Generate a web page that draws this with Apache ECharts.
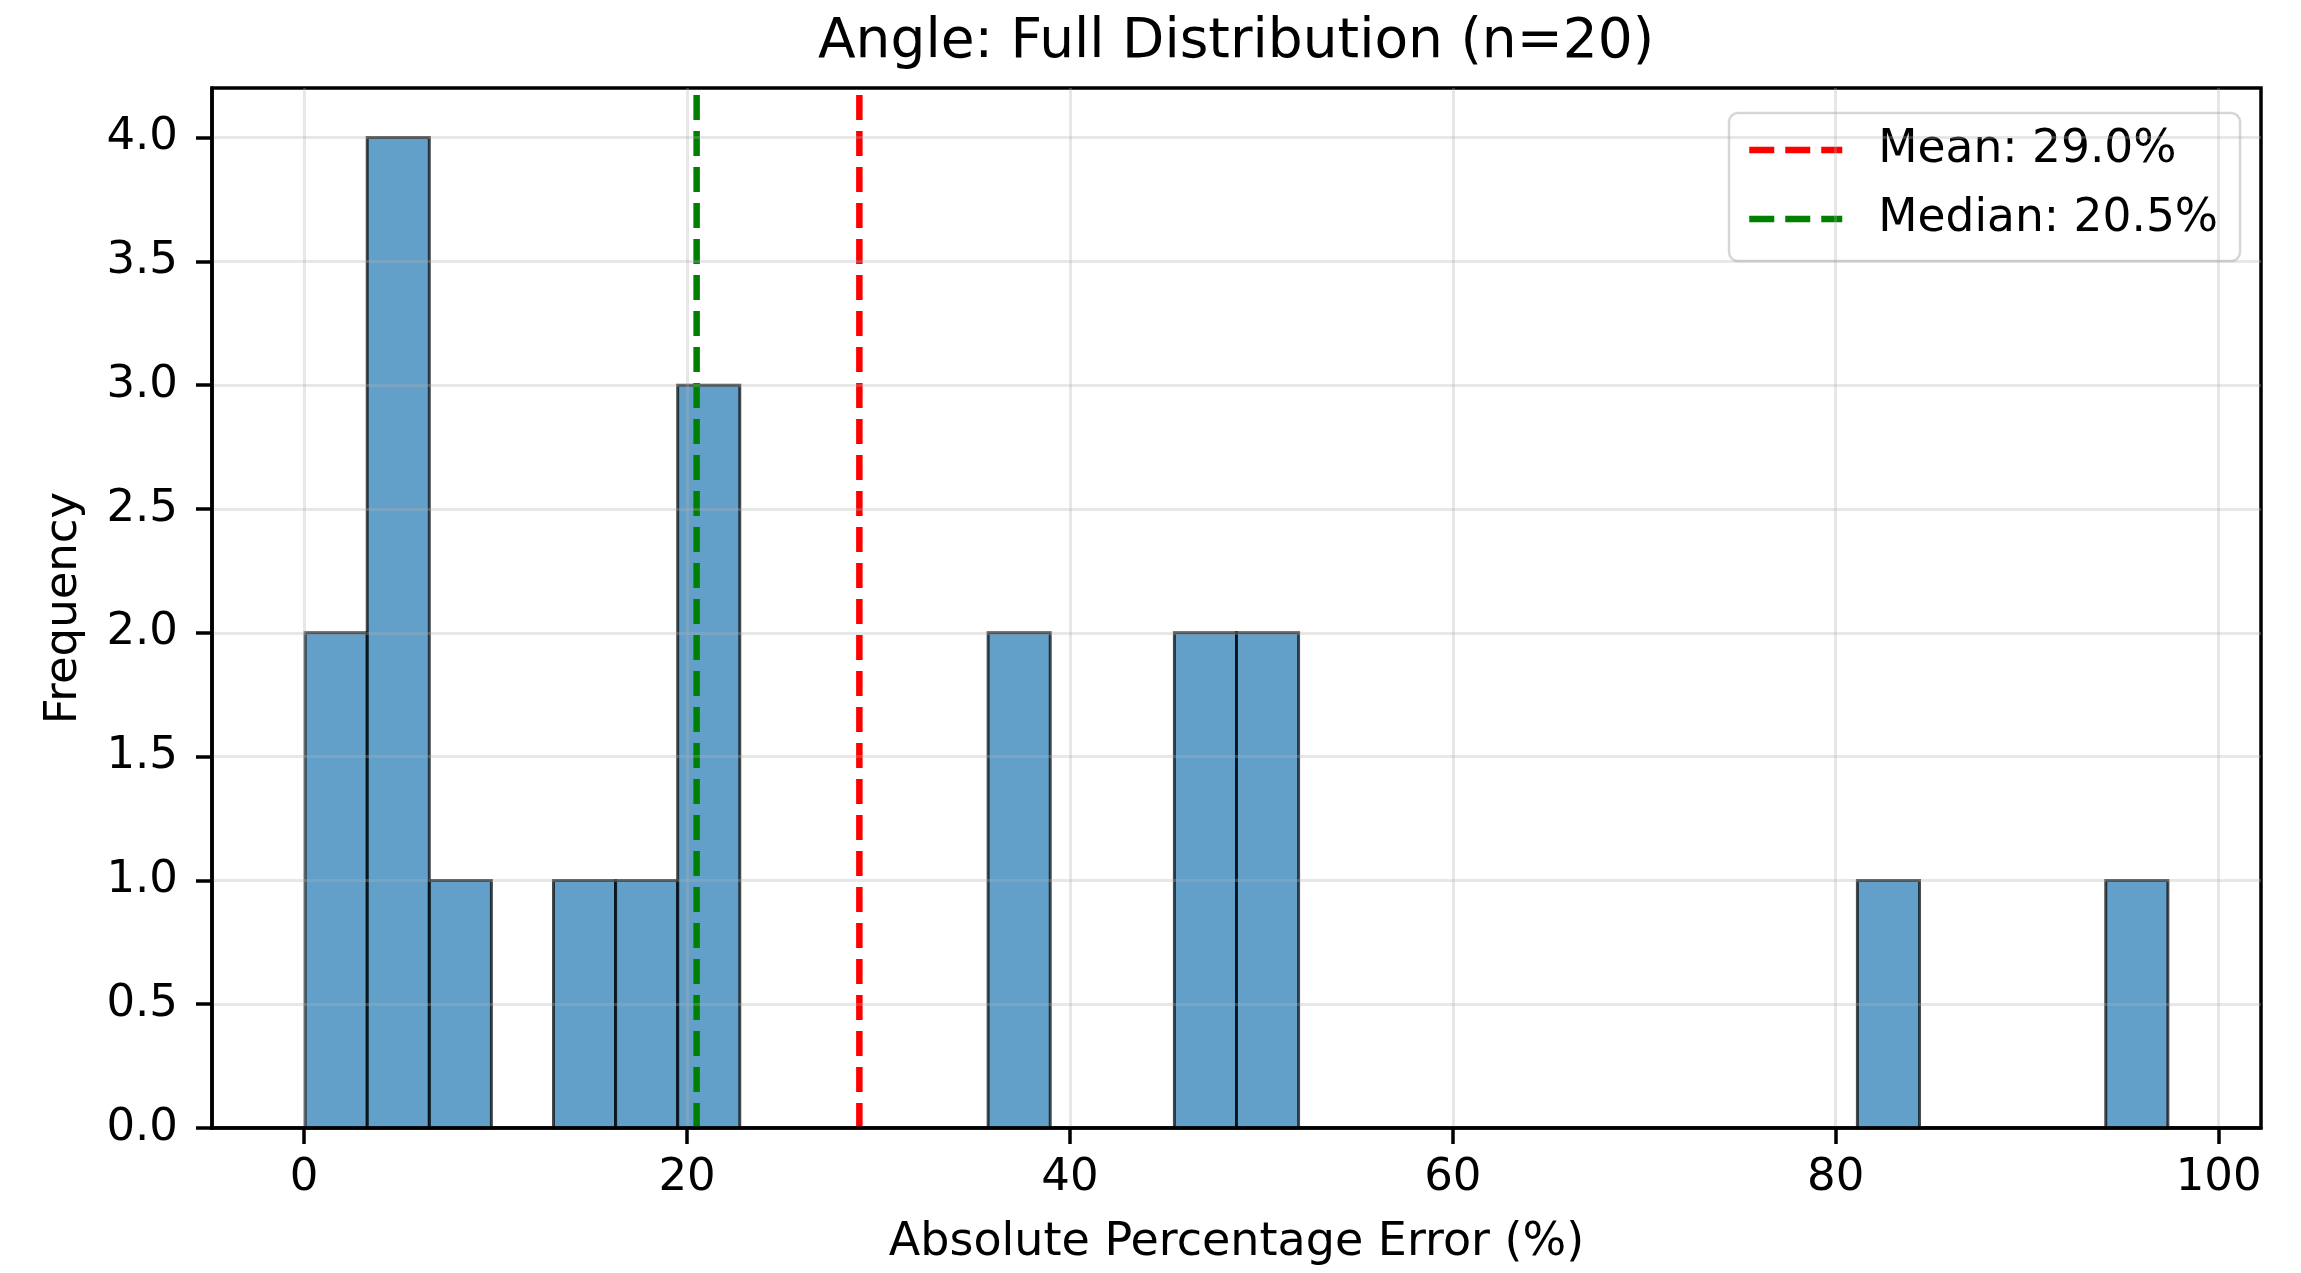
<!DOCTYPE html>
<html>
<head>
<meta charset="utf-8">
<title>Angle: Full Distribution (n=20)</title>
<script src="https://cdn.jsdelivr.net/npm/echarts@6/dist/echarts.min.js"></script>
<style>
  html, body { margin: 0; padding: 0; background: #ffffff; }
  #chart { width: 2301px; height: 1273px; }
</style>
</head>
<body>
<div id="chart"></div>
<script>
// Histogram of absolute percentage errors (30 equal-width bins)
const binMin = 0.05;
const binMax = 97.35;
const binCounts = [2, 4, 1, 0, 1, 1, 3, 0, 0, 0, 0, 2, 0, 0, 2, 2, 0, 0, 0, 0, 0, 0, 0, 0, 0, 1, 0, 0, 0, 1];

// Summary statistics shown as reference lines
const meanValue = 29.0;
const medianValue = 20.5;

// Tick labels
const xTicks = [0, 20, 40, 60, 80, 100];
const yTicks = [0, 0.5, 1.0, 1.5, 2.0, 2.5, 3.0, 3.5, 4.0];

const titleText = 'Angle: Full Distribution (n=20)';
const xLabel = 'Absolute Percentage Error (%)';
const yLabel = 'Frequency';

const FONT = 'DejaVu Sans';
const DASH = [25, 11];
const TITLE_SIZE = 55;

// plot area
const W = 2301;
const gridBox = { left: 212, right: 40, top: 88, bottom: 145 };

// bin edges -> [start, end, count]
const binWidth = (binMax - binMin) / binCounts.length;
const histData = binCounts.map((c, i) => [binMin + i * binWidth, binMin + (i + 1) * binWidth, c]);

// axis extents with 5% padding around the data range
const span = binMax - binMin;
const xMin = binMin - 0.05 * span;
const xMax = binMax + 0.05 * span;
const yMax = Math.max(...binCounts) * 1.05;

const meanName = 'Mean: ' + meanValue.toFixed(1) + '%';
const medianName = 'Median: ' + medianValue.toFixed(1) + '%';

// center the title over the plot area rather than the whole canvas
const measureCtx = document.createElement('canvas').getContext('2d');
measureCtx.font = TITLE_SIZE + 'px "' + FONT + '"';
const titleWidth = measureCtx.measureText(titleText).width;
const plotCenter = (gridBox.left + (W - gridBox.right)) / 2;

const chart = echarts.init(document.getElementById('chart'), null, { renderer: 'canvas' });

const option = {
  backgroundColor: '#ffffff',
  animation: false,
  title: {
    text: titleText,
    left: Math.round(plotCenter - titleWidth / 2 - 5),
    top: 10,
    textStyle: { fontFamily: FONT, fontSize: TITLE_SIZE, fontWeight: 'normal', color: '#000' }
  },
  grid: Object.assign({}, gridBox, {
    show: true, borderColor: '#000', borderWidth: 3.5, backgroundColor: 'transparent'
  }),
  legend: {
    orient: 'vertical',
    left: 1729,
    top: 113,
    padding: [12, 22, 17, 17],
    backgroundColor: 'rgba(255,255,255,0.8)',
    borderColor: 'rgba(204,204,204,0.8)',
    borderWidth: 2.5,
    borderRadius: 9,
    itemWidth: 93,
    itemHeight: 50,
    itemGap: 19,
    itemStyle: { opacity: 0 },
    lineStyle: { width: 6.5, type: DASH },
    textStyle: { fontFamily: FONT, fontSize: 45.5, color: '#000', padding: [0, 0, 0, 31], lineHeight: 50 },
    data: [meanName, medianName]
  },
  xAxis: {
    type: 'value',
    min: xMin,
    max: xMax,
    z: 5,
    name: xLabel,
    nameLocation: 'middle',
    nameGap: 92,
    nameTextStyle: { fontFamily: FONT, fontSize: 46, color: '#000' },
    axisLine: { show: true, onZero: false, lineStyle: { color: '#000', width: 3.5 } },
    axisTick: { show: true, length: 16, lineStyle: { color: '#000', width: 3.5 }, customValues: xTicks },
    axisLabel: {
      fontFamily: FONT, fontSize: 45, color: '#000', margin: 28,
      customValues: xTicks,
      formatter: v => String(Math.round(v))
    },
    splitLine: { show: true, lineStyle: { color: 'rgba(176,176,176,0.3)', width: 3 } }
  },
  yAxis: {
    type: 'value',
    min: 0,
    max: yMax,
    z: 5,
    name: yLabel,
    nameLocation: 'middle',
    nameGap: 125,
    nameTextStyle: { fontFamily: FONT, fontSize: 45, color: '#000' },
    axisLine: { show: true, onZero: false, lineStyle: { color: '#000', width: 3.5 } },
    axisTick: { show: true, length: 16, lineStyle: { color: '#000', width: 3.5 }, customValues: yTicks },
    axisLabel: {
      fontFamily: FONT, fontSize: 45, color: '#000', margin: 34,
      customValues: yTicks,
      formatter: v => v.toFixed(1)
    },
    splitLine: { show: true, lineStyle: { color: 'rgba(176,176,176,0.3)', width: 3 } }
  },
  series: [
    {
      type: 'custom',
      name: 'hist',
      z: 2,
      data: histData,
      encode: { x: [0, 1], y: 2 },
      renderItem: function (params, api) {
        const count = api.value(2);
        if (!count) return null;
        const p0 = api.coord([api.value(0), count]);
        const p1 = api.coord([api.value(1), 0]);
        return {
          type: 'rect',
          shape: { x: p0[0], y: p0[1], width: p1[0] - p0[0], height: p1[1] - p0[1] },
          style: { fill: 'rgba(31,119,180,0.7)', stroke: 'rgba(0,0,0,0.7)', lineWidth: 3 }
        };
      }
    },
    {
      type: 'line',
      name: meanName,
      z: 4,
      symbol: 'none',
      color: '#ff0000',
      lineStyle: { color: '#ff0000', width: 6.5, type: DASH },
      data: [[meanValue, 0], [meanValue, yMax]]
    },
    {
      type: 'line',
      name: medianName,
      z: 4,
      symbol: 'none',
      color: '#008000',
      lineStyle: { color: '#008000', width: 6.5, type: DASH },
      data: [[medianValue, 0], [medianValue, yMax]]
    }
  ]
};

chart.setOption(option);
</script>
</body>
</html>
